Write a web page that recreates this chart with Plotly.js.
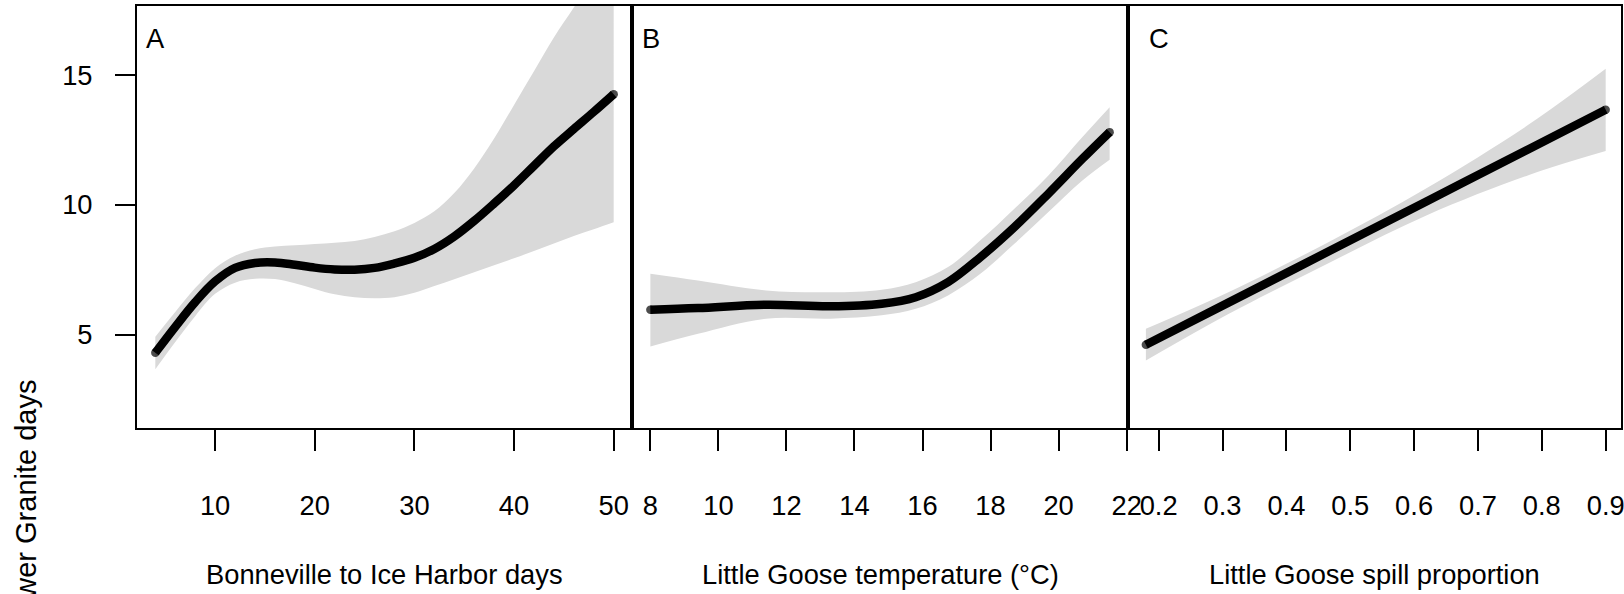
<!DOCTYPE html>
<html>
<head>
<meta charset="utf-8">
<script src="https://cdn.plot.ly/plotly-3.0.1.min.js"></script>
<style>html,body{margin:0;padding:0;background:#fff;}#chart{width:1624px;height:594px;}</style>
</head>
<body>
<div id="chart"></div>
<script>
// Panel A: Bonneville to Ice Harbor days
const aX   = [4, 6, 8, 10, 12, 14, 16, 18, 20, 22, 24, 26, 28, 30, 32, 34, 36, 38, 40, 42, 44, 46, 48, 50];
const aFit = [4.30, 5.30, 6.25, 7.05, 7.57, 7.76, 7.78, 7.69, 7.58, 7.51, 7.50, 7.57, 7.74, 7.96, 8.30, 8.78, 9.38, 10.05, 10.75, 11.50, 12.25, 12.92, 13.58, 14.26];
const aUp  = [4.92, 5.87, 6.79, 7.56, 8.04, 8.29, 8.39, 8.44, 8.49, 8.54, 8.61, 8.76, 8.98, 9.30, 9.75, 10.45, 11.40, 12.55, 13.85, 15.15, 16.45, 17.60, 18.80, 20.00];
const aLo  = [3.66, 4.71, 5.71, 6.57, 7.00, 7.15, 7.14, 6.98, 6.76, 6.55, 6.44, 6.40, 6.44, 6.61, 6.87, 7.13, 7.40, 7.67, 7.94, 8.22, 8.51, 8.80, 9.06, 9.33];

// Panel B: Little Goose temperature
const bX   = [8, 9.4, 11.4, 13.3, 14.8, 15.8, 16.75, 17.7, 18.7, 19.7, 20.7, 21.5];
const bFit = [5.96, 6.02, 6.15, 6.09, 6.19, 6.44, 7.02, 7.98, 9.14, 10.43, 11.77, 12.80];
const bUp  = [7.34, 7.08, 6.70, 6.63, 6.73, 7.02, 7.60, 8.63, 9.85, 11.13, 12.61, 13.76];
const bLo  = [4.54, 5.03, 5.61, 5.61, 5.74, 5.99, 6.51, 7.34, 8.50, 9.72, 10.94, 11.74];

// Panel C: Little Goose spill proportion
const cX   = [0.18, 0.31, 0.465, 0.62, 0.78, 0.90];
const cFit = [4.61, 6.24, 8.19, 10.14, 12.15, 13.66];
const cUp  = [5.22, 6.64, 8.55, 10.65, 13.10, 15.24];
const cLo  = [4.00, 5.80, 7.74, 9.60, 11.15, 12.07];

// Tick labels
const aTicks = [10, 20, 30, 40, 50];
const bTicks = [8, 10, 12, 14, 16, 18, 20, 22];
const cTicks = [0.2, 0.3, 0.4, 0.5, 0.6, 0.7, 0.8, 0.9];
const yTicks = [5, 10, 15];

const panelLetters = ['A', 'B', 'C'];
const xTitles = ['Bonneville to Ice Harbor days', 'Little Goose temperature (\u00B0C)', 'Little Goose spill proportion'];
const yTitle = 'Lower Granite days';

const FONT = 'Liberation Sans, Arial, Helvetica, sans-serif';
const FS = 27.3;
const BAND = '#D9D9D9';

function panel(xs, fit, up, lo, xa, ya) {
  const endSizes = xs.map((v, i) => (i === 0 || i === xs.length - 1) ? 8.5 : 0);
  return [
    {x: xs, y: lo, xaxis: xa, yaxis: ya, mode: 'lines', line: {width: 0, shape: 'spline', smoothing: 1}, hoverinfo: 'skip', showlegend: false},
    {x: xs, y: up, xaxis: xa, yaxis: ya, mode: 'lines', fill: 'tonexty', fillcolor: BAND, line: {width: 0, shape: 'spline', smoothing: 1}, hoverinfo: 'skip', showlegend: false},
    {x: xs, y: fit, xaxis: xa, yaxis: ya, mode: 'lines+markers', line: {color: '#000', width: 8.5, shape: 'spline', smoothing: 1}, marker: {color: '#000', size: endSizes, line: {width: 0}}, showlegend: false}
  ];
}

const data = [].concat(
  panel(aX, aFit, aUp, aLo, 'x', 'y'),
  panel(bX, bFit, bUp, bLo, 'x2', 'y2'),
  panel(cX, cFit, cUp, cLo, 'x3', 'y3')
);

const W = 1624, H = 594;
const mL = 137, mR = 3, mT = 6, mB = 166;
const pw = W - mL - mR, ph = H - mT - mB;
const xpx = p => (p - mL) / pw;      // pixel -> paper x
const ypx = p => (H - mB - p) / ph;  // pixel -> paper y

const yRange = [1.40, 17.66];
const tickFont = {family: FONT, size: FS, color: '#000'};
const txtFont = {family: FONT, size: FS, color: '#000'};

function xaxis(domain, range, ticks) {
  return {
    domain: domain, range: range, tickvals: ticks, ticks: 'outside', ticklen: 21, tickwidth: 2, tickcolor: '#000',
    showline: true, mirror: true, linecolor: '#000', linewidth: 2, showgrid: false, zeroline: false,
    tickfont: tickFont, ticklabelstandoff: 31, ticklabeloverflow: 'allow'
  };
}
function yaxis(anchor, show) {
  return {
    anchor: anchor, domain: [0, 1], range: yRange, showline: true, mirror: true, linecolor: '#000', linewidth: 2,
    showgrid: false, zeroline: false,
    tickvals: show ? yTicks : [], ticks: show ? 'outside' : '', ticklen: 20, tickwidth: 2, tickcolor: '#000',
    showticklabels: show, tickfont: tickFont, ticklabelstandoff: 17
  };
}

const dA = [0, 495 / pw], dB = [495 / pw, 991 / pw], dC = [991 / pw, 1];

const letterX = [155, 650.5, 1159];
const annotations = panelLetters.map((t, i) => ({
  text: t, xref: 'paper', yref: 'paper', x: xpx(letterX[i]), y: ypx(38), xanchor: 'center', yanchor: 'middle',
  showarrow: false, font: txtFont
}));
const titleX = [384.5, 880, 1374.5];
xTitles.forEach((t, i) => annotations.push({
  text: t, xref: 'paper', yref: 'paper', x: xpx(titleX[i]), y: ypx(574), xanchor: 'center', yanchor: 'middle',
  showarrow: false, font: txtFont
}));
annotations.push({
  text: yTitle, textangle: -90, xref: 'paper', yref: 'paper', x: xpx(25.5), y: ypx(378), xanchor: 'center', yanchor: 'top',
  showarrow: false, font: {family: FONT, size: 29, color: '#000'}
});

const layout = {
  width: W, height: H,
  margin: {l: mL, r: mR, t: mT, b: mB, pad: 0},
  paper_bgcolor: '#fff', plot_bgcolor: '#fff',
  showlegend: false,
  font: txtFont,
  xaxis: Object.assign(xaxis(dA, [2.16, 51.84], aTicks), {anchor: 'y'}),
  xaxis2: Object.assign(xaxis(dB, [7.46, 22.04], bTicks), {anchor: 'y2'}),
  xaxis3: Object.assign(xaxis(dC, [0.152, 0.924], cTicks), {anchor: 'y3'}),
  yaxis: yaxis('x', true),
  yaxis2: yaxis('x2', false),
  yaxis3: yaxis('x3', false),
  annotations: annotations
};

Plotly.newPlot('chart', data, layout, {staticPlot: true, displayModeBar: false});
</script>
</body>
</html>
